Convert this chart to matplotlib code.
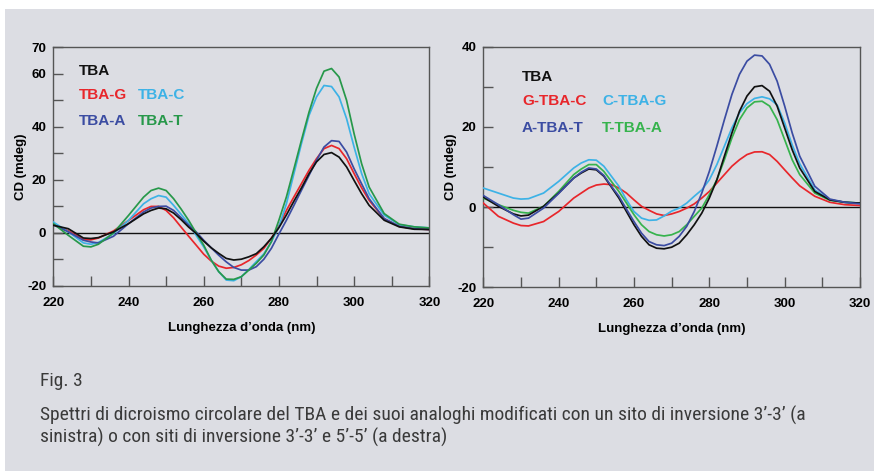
import matplotlib
matplotlib.use("Agg")
import matplotlib.pyplot as plt
from matplotlib.patches import Rectangle

wavelength = [220, 224, 228, 230, 232, 236, 240, 244, 246, 248, 250, 252, 254, 256, 258,
              260, 262, 264, 266, 268, 270, 272, 274, 276, 278, 280, 282, 284, 286, 288,
              290, 292, 294, 296, 298, 300, 302, 304, 308, 312, 316, 320]

# Left panel (3'-3' inversion)
left_TBA = [2.9, 1.6, -1.9, -2.1, -1.75, 0.4, 3.5, 7.2, 8.5, 9.4, 9.1, 7.5, 5.0, 2.2, -0.2,
            -3.1, -5.6, -7.7, -9.6, -10.2, -9.9, -9.0, -7.8, -5.2, -2.0, 2.0, 6.8, 12.0, 17.0, 22.3,
            26.8, 29.6, 30.3, 28.6, 24.9, 19.8, 14.8, 10.4, 4.8, 2.3, 1.4, 1.3]
left_TBA_G = [3.1, 0.8, -2.5, -2.6, -1.9, 0.75, 4.7, 8.75, 10.0, 10.0, 8.5, 5.7, 2.2, -1.25, -4.6,
              -8.0, -10.6, -12.5, -13.3, -13.0, -12.0, -10.4, -8.3, -5.8, -2.0, 2.6, 8.5, 13.6, 18.6, 23.6,
              28.0, 31.8, 33.0, 31.8, 28.0, 22.4, 17.0, 12.3, 5.4, 2.5, 1.6, 1.3]
left_TBA_C = [4.1, 0.4, -3.75, -4.25, -3.6, -0.25, 4.75, 11.0, 12.9, 14.1, 13.5, 10.4, 7.0, 3.5, -0.9,
              -5.25, -10.25, -14.6, -17.75, -18.0, -16.5, -13.8, -10.8, -7.9, -3.3, 2.3, 11.0, 22.4, 33.7, 44.3,
              51.3, 55.6, 55.2, 51.3, 43.1, 32.4, 22.4, 14.8, 6.7, 3.1, 2.3, 1.9]
left_TBA_A = [3.1, 0.4, -2.75, -3.4, -3.75, -1.25, 3.5, 7.9, 9.4, 10.0, 10.1, 8.5, 5.75, 2.9, 0.4,
              -2.75, -5.6, -8.4, -10.9, -13.0, -14.0, -14.0, -12.7, -9.9, -5.8, -0.4, 4.8, 10.4, 16.1, 21.7,
              27.4, 32.4, 34.8, 34.5, 30.5, 24.2, 18.5, 12.9, 5.4, 2.5, 1.6, 1.3]
left_TBA_T = [3.5, -0.9, -5.0, -5.25, -4.25, 0.0, 6.6, 13.5, 16.0, 16.9, 16.0, 12.9, 9.0, 4.75, 0.0,
              -4.6, -10.25, -14.6, -17.4, -17.5, -16.5, -14.0, -11.4, -8.3, -3.3, 4.8, 13.6, 24.2, 35.0, 45.5,
              54.5, 61.0, 62.0, 58.8, 50.0, 37.4, 26.1, 17.3, 7.3, 3.3, 2.3, 1.9]

# Right panel (3'-3' and 5'-5' inversions)
right_TBA = [2.5, 0.2, -1.7, -2.2, -2.0, 0.2, 3.5, 7.25, 8.5, 9.5, 9.3, 7.7, 5.0, 2.25, -1.1,
             -4.4, -7.3, -9.4, -10.25, -10.4, -10.0, -9.0, -6.9, -4.4, -1.5, 2.25, 6.8, 12.7, 18.5, 23.9,
             27.7, 30.0, 30.3, 28.9, 25.2, 19.75, 14.3, 9.75, 3.9, 1.8, 1.2, 1.0]
right_G_TBA_C = [1.0, -2.3, -4.0, -4.6, -4.7, -3.6, -1.1, 2.25, 3.5, 4.75, 5.5, 5.75, 5.6, 4.75, 3.5,
                 1.8, 0.2, -0.8, -1.7, -2.1, -1.7, -1.1, -0.25, 0.8, 2.25, 3.9, 6.0, 8.1, 10.2, 11.8,
                 13.1, 13.75, 13.8, 13.1, 11.4, 9.3, 7.25, 5.3, 2.7, 1.2, 0.6, 0.4]
right_C_TBA_G = [4.75, 3.5, 2.25, 2.0, 2.1, 3.5, 6.4, 9.75, 11.0, 11.8, 11.7, 10.2, 7.7, 5.2, 1.8,
                 -1.1, -2.75, -3.3, -3.2, -2.2, -1.0, -0.25, 1.0, 2.7, 4.3, 6.8, 10.6, 15.2, 19.75, 23.5,
                 25.8, 27.1, 27.5, 27.0, 25.5, 21.0, 15.5, 10.8, 4.3, 1.8, 1.2, 1.0]
right_A_TBA_T = [2.9, 0.6, -1.9, -3.0, -2.75, -0.25, 3.4, 7.25, 8.7, 9.75, 9.5, 7.9, 5.2, 2.7, -0.5,
                 -3.6, -6.5, -8.6, -9.4, -9.6, -9.0, -7.3, -4.8, -1.1, 3.5, 8.9, 15.2, 21.8, 28.1, 33.1,
                 36.4, 37.9, 37.7, 35.6, 31.4, 25.2, 18.5, 12.7, 5.2, 2.0, 1.2, 0.8]
right_T_TBA_A = [2.25, 0.6, -0.8, -1.3, -1.5, 0.2, 3.9, 8.1, 9.5, 10.6, 10.6, 8.9, 6.4, 3.9, 1.0,
                 -1.9, -4.4, -6.1, -6.9, -7.2, -6.9, -6.1, -4.4, -2.3, -0.25, 3.1, 6.8, 11.8, 17.25, 21.8,
                 24.75, 26.25, 26.4, 25.2, 21.8, 16.8, 11.8, 8.1, 3.5, 1.7, 1.2, 1.0]

left_labels = ["TBA", "TBA-G", "TBA-C", "TBA-A", "TBA-T"]
right_labels = ["TBA", "G-TBA-C", "C-TBA-G", "A-TBA-T", "T-TBA-A"]

x_ticks = [220, 230, 240, 250, 260, 270, 280, 290, 300, 310, 320]
x_ticklabels = ["220", "", "240", "", "260", "", "280", "", "300", "", "320"]
left_yticks = [-20, -10, 0, 10, 20, 30, 40, 50, 60, 70]
left_yticklabels = ["-20", "", "0", "", "20", "", "40", "", "60", "70"]
right_yticks = [-20, -10, 0, 10, 20, 30, 40]
right_yticklabels = ["-20", "", "0", "", "20", "", "40"]

caption_title = "Fig. 3"
caption_text = ("Spettri di dicroismo circolare del TBA e dei suoi analoghi modificati con un sito di inversione 3\u2019-3\u2019 (a\n"
                "sinistra) o con siti di inversione 3\u2019-3\u2019 e 5\u2019-5\u2019 (a destra)")

BG = "#dcdde3"
BLACK = "#111111"
RED = "#e8262b"
LBLUE = "#3db2e6"
DBLUE = "#3b4ca2"
GREEN_L = "#27984a"
GREEN_R = "#36b34d"
SPINE = "#555555"

fig = plt.figure(figsize=(8.74, 4.71), dpi=100, facecolor="white")
fig.patches.append(Rectangle((5 / 874, 0), 1, 1 - 9 / 471, transform=fig.transFigure,
                             facecolor=BG, edgecolor="none", zorder=-10))

ax1 = fig.add_axes([53.3 / 874, 1 - 286 / 471, 376 / 874, 238.7 / 471])
ax2 = fig.add_axes([483.3 / 874, 1 - 287.3 / 471, 376.7 / 874, 240.6 / 471])

bold = dict(fontweight="bold", family=["Liberation Sans", "DejaVu Sans"])


def style(ax, yticks, yticklabels, ylim):
    ax.set_facecolor("none")
    ax.set_xlim(220, 320)
    ax.set_ylim(*ylim)
    ax.axhline(0, color=BLACK, lw=1.0, zorder=1)
    ax.set_xticks(x_ticks)
    ax.set_xticklabels(x_ticklabels, fontsize=9.5, **bold)
    ax.set_yticks(yticks)
    ax.set_yticklabels(yticklabels, fontsize=9.5, **bold)
    ax.tick_params(direction="in", length=7, width=1, color=SPINE)
    ax.tick_params(axis="x", pad=8)
    ax.tick_params(axis="y", pad=5)
    for s in ax.spines.values():
        s.set_color(SPINE)
        s.set_linewidth(1.0)
    ax.set_xlabel("Lunghezza d\u2019onda (nm)", fontsize=9.5, labelpad=9, **bold)
    ax.set_ylabel("CD (mdeg)", fontsize=9.5, labelpad=0, **bold)


style(ax1, left_yticks, left_yticklabels, (-20, 70))
style(ax2, right_yticks, right_yticklabels, (-20, 40))

lw = 1.25
left_series = [left_TBA_G, left_TBA_C, left_TBA_A, left_TBA_T, left_TBA]
left_colors = [RED, LBLUE, DBLUE, GREEN_L, BLACK]
for y, c in zip(left_series, left_colors):
    ax1.plot(wavelength, y, color=c, lw=lw, zorder=3, solid_joinstyle="round")

right_series = [right_G_TBA_C, right_C_TBA_G, right_T_TBA_A, right_TBA, right_A_TBA_T]
right_colors = [RED, LBLUE, GREEN_R, BLACK, DBLUE]
for y, c in zip(right_series, right_colors):
    ax2.plot(wavelength, y, color=c, lw=lw, zorder=3, solid_joinstyle="round")

leg = dict(fontsize=11, va="center", ha="left", fontweight="bold",
           family=["Liberation Sans", "DejaVu Sans"])
# left legend
lc = [BLACK, RED, LBLUE, DBLUE, GREEN_L]
lpos = [(79, 71), (79, 95), (138, 95), (79, 121), (138, 121)]
for t, c, (px, py) in zip(left_labels, lc, lpos):
    fig.text(px / 874, 1 - py / 471, t, color=c, **leg)
rc = [BLACK, RED, LBLUE, DBLUE, GREEN_R]
rpos = [(522, 77), (522, 101), (602, 101), (522, 128), (602, 128)]
for t, c, (px, py) in zip(right_labels, rc, rpos):
    fig.text(px / 874, 1 - py / 471, t, color=c, **leg)

cap = dict(color="#3a3a3a", family=["Liberation Sans Narrow", "Roboto Condensed", "Liberation Sans", "DejaVu Sans"])
fig.text(40 / 874, 1 - 381 / 471, caption_title, fontsize=14, va="center", ha="left", **cap)
fig.text(40 / 874, 1 - 426 / 471, caption_text, fontsize=14, va="center", ha="left",
         linespacing=1.2, **cap)

fig.savefig("out.png", dpi=100, facecolor="white")
